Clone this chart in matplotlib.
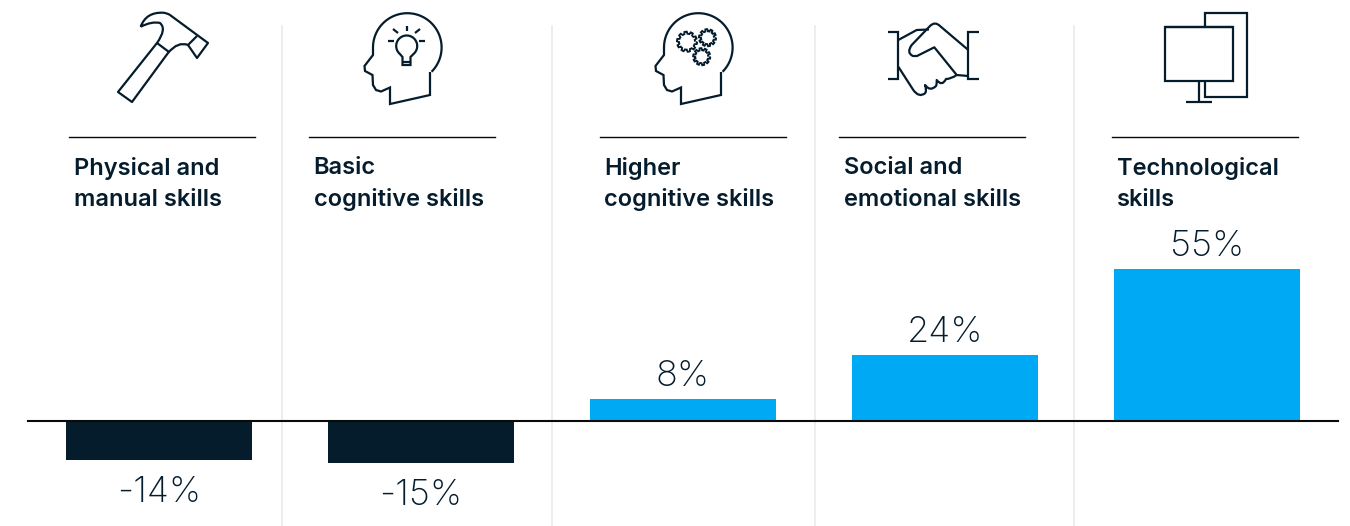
import numpy as np
import matplotlib
matplotlib.use("Agg")
import matplotlib.pyplot as plt
from matplotlib.path import Path
from matplotlib.patches import PathPatch

categories = [
    "Physical and\nmanual skills",
    "Basic\ncognitive skills",
    "Higher\ncognitive skills",
    "Social and\nemotional skills",
    "Technological\nskills",
]
values = [-14, -15, 8, 24, 55]
value_labels = ["-14%", "-15%", "8%", "24%", "55%"]

DARK = "#051c2c"
BLUE = "#00a9f4"
W, H = 1350, 526
ZERO_Y = 421.5
PX_PER_PCT = 2.78
BAR_X0, BAR_STEP, BAR_W = 159, 262, 186

rule_x = [69, 309, 600, 839, 1112]
divider_x = [282, 551.5, 814.5, 1074]


def stroke(ax, pts, lw=1.6):
    xs, ys = zip(*pts)
    ax.plot(xs, ys, color=DARK, lw=lw, solid_joinstyle="miter", solid_capstyle="butt")


def curve(ax, verts, codes, lw=1.6):
    ax.add_patch(PathPatch(Path(verts, codes), fill=False, ec=DARK, lw=lw, joinstyle="round"))


def draw_hammer(ax):
    M, L, C = Path.MOVETO, Path.LINETO, Path.CURVE3
    verts = [(140.7, 26.7), (146, 12), (163, 12.7), (167, 13), (170, 15), (208, 43), (197, 58),
             (188, 45), (178, 41), (168, 53), (132, 102), (118, 92), (157, 43),
             (167, 29), (160, 23), (152, 21), (140.7, 26.7)]
    codes = [M, C, C, C, C, L, L, L, C, C, L, L, L, C, C, C, C]
    curve(ax, verts, codes)
    stroke(ax, [(157, 43), (169, 52)])
    stroke(ax, [(197, 36), (188, 45)])


def draw_head(ax, dx):
    # cranium arc, then the face and neck as straight runs
    t = np.radians(np.linspace(-45, 180, 70))
    arc = [(407.3 + 34.3 * np.cos(a), 47.5 - 34.3 * np.sin(a)) for a in t]
    face = [(373, 55), (364.5, 66), (365, 71), (372.5, 75), (373, 85), (376, 90), (381, 91.5),
            (390, 87.5), (390, 104), (430, 95), (430, 72)]
    stroke(ax, [(px + dx, py) for px, py in arc + face])


def draw_bulb(ax):
    t = np.radians(np.linspace(-50, 230, 50))
    stroke(ax, [(406.7 + 10.5 * np.cos(a), 46 - 10.5 * np.sin(a)) for a in t] +
           [(402.5, 57), (402.5, 65), (410.5, 65), (410.5, 57), (413.5, 54)])
    stroke(ax, [(402.5, 62), (410.5, 62)])
    for seg in [[(388, 41), (394, 41)], [(419, 41), (425, 41)], [(406.7, 26), (406.7, 31)],
                [(393, 29), (398, 33)], [(420, 29), (415, 33)]]:
        stroke(ax, seg)


def draw_gear(ax, cx, cy, r):
    t = np.linspace(0, 2 * np.pi, 80)
    rad = r + 1.1 * np.sign(np.sin(10 * t))
    stroke(ax, list(zip(cx + rad * np.cos(t), cy + rad * np.sin(t))), lw=1.3)


def draw_handshake(ax):
    M, L, C = Path.MOVETO, Path.LINETO, Path.CURVE3
    stroke(ax, [(887.7, 31.7), (898.3, 31.7), (898.3, 79), (887.7, 79)])
    stroke(ax, [(979, 31.7), (968.3, 31.7), (968.3, 79), (979, 79)])
    upper = [(968.3, 50), (940, 26), (935, 21), (930, 26), (911.7, 45), (906, 53), (913, 56),
             (917, 56), (934.3, 47.3), (956.7, 75), (968.3, 76)]
    curve(ax, upper, [M, L, C, C, L, C, C, L, L, L, L])
    stroke(ax, [(898.3, 40), (916.7, 30), (929, 29.5)])
    lower = [(898.3, 66.7), (913.3, 90), (919, 98), (925, 93.3), (927, 91), (925, 85),
             (930, 92), (936, 86), (937, 84), (936.7, 80), (942, 87), (946, 79),
             (951, 79), (956.7, 75)]
    curve(ax, lower, [M, L, C, C, C, C, C, C, C, C, C, C, C, C])


def draw_monitor(ax):
    stroke(ax, [(1165, 27.3), (1232.7, 27.3), (1232.7, 81), (1165, 81), (1165, 27.3), (1232.7, 27.3)])
    stroke(ax, [(1205, 27.3), (1205, 13.3), (1246.7, 13.3), (1246.7, 96.7), (1205, 96.7), (1205, 81)])
    stroke(ax, [(1199, 81), (1199, 102)])
    stroke(ax, [(1185.7, 102), (1212.3, 102)])


fig = plt.figure(figsize=(W / 100, H / 100), dpi=100)

# bars live on their own axes, scaled so one percent is a fixed number of pixels
ax = fig.add_axes([0, 0, 1, 1])
ax.set_xlim(-BAR_X0 / BAR_STEP, (W - BAR_X0) / BAR_STEP)
ax.set_ylim(-(H - ZERO_Y) / PX_PER_PCT, ZERO_Y / PX_PER_PCT)
ax.axis("off")
x = np.arange(len(values))
colors = [BLUE if v > 0 else DARK for v in values]
ax.bar(x, values, width=BAR_W / BAR_STEP, color=colors)
for xi, v, lab in zip(x, values, value_labels):
    off = 13 if v > 0 else -42
    ax.annotate(lab, (xi, v), xytext=(0, off * 0.72), textcoords="offset points", ha="center",
                va="baseline", fontsize=26, family="Inter", weight="light", color=DARK)

# headers, rules and icons are placed in pixel coordinates
ov = fig.add_axes([0, 0, 1, 1], facecolor="none")
ov.set_xlim(0, W)
ov.set_ylim(H, 0)
ov.axis("off")
for dx in divider_x:
    ov.plot([dx, dx], [26, H], color="#e8e8e8", lw=1.1)
ov.plot([28, 1338], [ZERO_Y - 0.5, ZERO_Y - 0.5], color="#0a0a0a", lw=1.5)
for rx, cat in zip(rule_x, categories):
    ov.plot([rx, rx + 186], [137, 137], color="#0a0a0a", lw=1.0)
    line1, line2 = cat.split("\n")
    for yy, line in zip([174.5, 206], [line1, line2]):
        ov.text(rx + 4.5, yy, line, fontsize=17, family="Inter", weight="semibold", color=DARK,
                va="baseline", ha="left")

draw_hammer(ov)
draw_head(ov, 0)
draw_bulb(ov)
draw_head(ov, 291)
draw_gear(ov, 687, 41.7, 9)
draw_gear(ov, 707.5, 37.7, 7.5)
draw_gear(ov, 701.7, 56.7, 7.5)
draw_handshake(ov)
draw_monitor(ov)
ov.set_xlim(0, W)
ov.set_ylim(H, 0)

fig.savefig("out.png", dpi=100)
